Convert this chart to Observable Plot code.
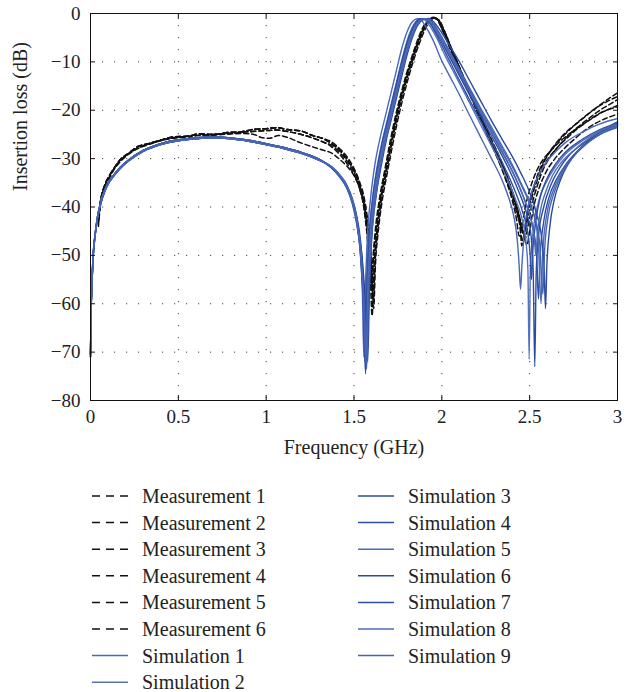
<!DOCTYPE html>
<html><head><meta charset="utf-8">
<script src="https://cdn.jsdelivr.net/npm/d3@7"></script>
<script src="https://cdn.jsdelivr.net/npm/@observablehq/plot@0.6"></script>
<style>
body{margin:0;background:#fff;}
#wrap{position:relative;width:639px;height:692px;font-family:"Liberation Serif",serif;color:#222;}
#legend{position:absolute;left:0;top:0;}
</style></head><body><div id="wrap"><div id="chart"></div><svg id="legend" width="639" height="692"></svg></div>
<script>
// ---- axis ticks ----
const xTicks = [0, 0.5, 1, 1.5, 2, 2.5, 3];
const yTicks = [0, -10, -20, -30, -40, -50, -60, -70, -80];

// ---- measured passbands (GHz, dB) ----
const measPassA = [[0.045,-43],[0.05,-40.6],[0.06,-38.2],[0.08,-35.6],[0.1,-34],[0.13,-32.2],[0.17,-30.2],[0.22,-28.8],[0.27,-27.5],[0.33,-26.9],[0.4,-26.2],[0.47,-25.5],[0.55,-25.4],[0.62,-24.9],[0.7,-25],[0.78,-24.6],[0.85,-24.5],[0.92,-24],[1.0,-23.8],[1.06,-23.6],[1.12,-24],[1.2,-24.3],[1.27,-25.3],[1.32,-25.8]];
const measPassB = [[0.045,-44],[0.05,-41.5],[0.06,-39],[0.08,-36.2],[0.1,-34.6],[0.13,-32.5],[0.17,-30.6],[0.22,-29],[0.27,-27.9],[0.33,-27.1],[0.4,-26.3],[0.47,-25.8],[0.55,-25.5],[0.6,-25.9],[0.65,-25.4],[0.72,-25.1],[0.8,-24.9],[0.87,-24.8],[0.93,-25],[0.98,-25.7],[1.02,-25.8],[1.07,-25.2],[1.12,-25.6],[1.18,-26.5],[1.25,-27.4],[1.32,-28.2]];
const measPassC = [[0.048,-42.5],[0.055,-40],[0.065,-37.8],[0.08,-35.8],[0.1,-34.3],[0.13,-32.3],[0.17,-30.4],[0.22,-28.9],[0.27,-27.8],[0.33,-27],[0.4,-26.2],[0.47,-25.7],[0.55,-25.4],[0.62,-25.2],[0.7,-25],[0.78,-24.8],[0.85,-24.6],[0.92,-24.4],[1.0,-24.2],[1.06,-24.1],[1.12,-24.4],[1.2,-25],[1.27,-25.8],[1.32,-26.5]];

// ---- measured upper parts ----
const meas1 = [[1.37,-26.8],[1.42,-28.3],[1.46,-30],[1.5,-32.3],[1.53,-35],[1.555,-38.8],[1.575,-44],[1.59,-51],[1.603,-62.5],[1.615,-52],[1.63,-45],[1.65,-39],[1.68,-33],[1.71,-27.2],[1.74,-21.8],[1.77,-17.2],[1.8,-13.2],[1.83,-9.6],[1.86,-6.4],[1.89,-3.6],[1.92,-1.7],[1.95,-0.9],[1.975,-1.2],[2.0,-3],[2.04,-6.3],[2.08,-9.6],[2.12,-13],[2.17,-17],[2.22,-21.3],[2.27,-25.5],[2.32,-29.5],[2.37,-34],[2.41,-38.5],[2.44,-43],[2.46,-47],[2.475,-45],[2.495,-41],[2.52,-37],[2.56,-32.5],[2.6,-29.5],[2.65,-27],[2.7,-25],[2.75,-23.3],[2.8,-21.8],[2.85,-20.3],[2.9,-18.9],[2.95,-17.6],[3.0,-16.4]];
const meas2 = [[1.37,-26.5],[1.42,-28],[1.46,-29.6],[1.5,-32],[1.53,-34.6],[1.56,-38.5],[1.582,-44],[1.598,-51],[1.61,-59],[1.62,-51],[1.635,-44.5],[1.655,-38.5],[1.685,-32.5],[1.715,-26.8],[1.745,-21.5],[1.775,-17],[1.805,-13],[1.835,-9.4],[1.865,-6.2],[1.895,-3.4],[1.925,-1.6],[1.955,-0.9],[1.98,-1.3],[2.01,-3.3],[2.05,-6.8],[2.09,-10.2],[2.13,-13.6],[2.18,-17.6],[2.23,-21.7],[2.28,-25.8],[2.33,-29.8],[2.38,-34.5],[2.42,-39],[2.45,-43.5],[2.475,-46.5],[2.49,-44],[2.51,-40],[2.54,-36],[2.58,-32],[2.62,-29.5],[2.67,-27.2],[2.72,-25.2],[2.78,-23.3],[2.84,-21.6],[2.9,-20],[2.95,-18.9],[3.0,-17.8]];
const meas3 = [[1.37,-27.2],[1.42,-28.8],[1.46,-30.5],[1.5,-32.8],[1.53,-35.5],[1.555,-39.5],[1.574,-45],[1.588,-51],[1.6,-57],[1.612,-50],[1.628,-44],[1.648,-38.5],[1.678,-32.5],[1.708,-26.8],[1.738,-21.5],[1.768,-17],[1.798,-13],[1.828,-9.5],[1.858,-6.3],[1.888,-3.5],[1.918,-1.6],[1.948,-0.9],[1.972,-1.2],[2.0,-3.1],[2.04,-6.6],[2.08,-10],[2.12,-13.5],[2.17,-17.6],[2.22,-21.8],[2.27,-26],[2.32,-30.2],[2.36,-34],[2.4,-38.5],[2.425,-42.5],[2.44,-46],[2.455,-44],[2.475,-40],[2.5,-36.5],[2.54,-32.5],[2.58,-30],[2.63,-28],[2.68,-26.2],[2.74,-24.5],[2.8,-23],[2.86,-21.6],[2.92,-20.3],[3.0,-19.3]];
const meas4 = [[1.37,-28.8],[1.42,-30.2],[1.46,-31.6],[1.5,-33.5],[1.53,-36],[1.56,-40],[1.583,-45.5],[1.6,-52],[1.612,-61],[1.622,-52],[1.638,-45],[1.658,-39.3],[1.688,-33.2],[1.718,-27.5],[1.748,-22.2],[1.778,-17.6],[1.808,-13.5],[1.838,-9.8],[1.868,-6.6],[1.898,-3.8],[1.928,-1.8],[1.958,-1],[1.985,-1.4],[2.015,-3.6],[2.055,-7.2],[2.095,-10.7],[2.135,-14.2],[2.185,-18.3],[2.235,-22.5],[2.285,-26.6],[2.335,-30.6],[2.385,-35.2],[2.425,-39.6],[2.455,-43.8],[2.485,-47.8],[2.5,-45],[2.52,-40.5],[2.55,-36.5],[2.59,-33],[2.64,-30.2],[2.7,-27.8],[2.76,-25.8],[2.82,-24],[2.88,-22.6],[2.94,-21.6],[3.0,-20.8]];
const meas5 = [[1.37,-26.9],[1.42,-28.4],[1.46,-30.2],[1.5,-32.5],[1.53,-35.2],[1.557,-39],[1.578,-44.5],[1.593,-51],[1.607,-60],[1.618,-51],[1.633,-44.8],[1.652,-39],[1.682,-33],[1.712,-27],[1.742,-21.7],[1.772,-17.1],[1.802,-13.1],[1.832,-9.5],[1.862,-6.3],[1.892,-3.5],[1.922,-1.6],[1.952,-0.8],[1.977,-1.2],[2.005,-3.1],[2.045,-6.5],[2.085,-9.9],[2.125,-13.3],[2.175,-17.4],[2.225,-21.5],[2.275,-25.7],[2.325,-29.7],[2.375,-34.2],[2.415,-38.8],[2.445,-43.5],[2.455,-48],[2.47,-45],[2.49,-40.5],[2.52,-36.2],[2.56,-32],[2.6,-29.3],[2.65,-26.8],[2.7,-24.8],[2.76,-22.9],[2.82,-21.1],[2.88,-19.5],[2.94,-18.2],[3.0,-17.2]];
const meas6 = [[1.37,-27.5],[1.42,-29.2],[1.46,-31],[1.5,-33.3],[1.53,-36],[1.555,-40],[1.572,-45],[1.586,-50.5],[1.598,-55.5],[1.61,-49.5],[1.625,-43.5],[1.645,-38.3],[1.675,-32.4],[1.705,-26.6],[1.735,-21.4],[1.765,-16.9],[1.795,-12.9],[1.825,-9.4],[1.855,-6.2],[1.885,-3.4],[1.915,-1.6],[1.945,-0.9],[1.97,-1.1],[1.998,-3],[2.038,-6.5],[2.078,-9.9],[2.118,-13.4],[2.168,-17.5],[2.218,-21.7],[2.268,-25.9],[2.318,-30],[2.368,-34.4],[2.408,-38.8],[2.44,-42.8],[2.465,-45.5],[2.48,-43],[2.5,-39.5],[2.53,-35.8],[2.57,-32.2],[2.61,-29.8],[2.66,-27.6],[2.72,-25.5],[2.78,-23.6],[2.84,-22],[2.9,-20.6],[2.95,-19.8],[3.0,-19]];

// ---- simulated passbands ----
const simPassA = [[0,-70.5],[0.003,-62],[0.008,-56],[0.015,-50],[0.025,-46],[0.04,-42],[0.06,-38.8],[0.08,-36.6],[0.1,-35],[0.13,-33.5],[0.17,-31.8],[0.22,-30.2],[0.3,-28.3],[0.4,-26.9],[0.5,-26.1],[0.6,-25.7],[0.7,-25.5],[0.8,-25.7],[0.9,-26.2],[1.0,-26.9],[1.1,-27.7],[1.2,-28.7],[1.3,-30.1]];
const simPassB = [[0,-71],[0.003,-62.5],[0.008,-56.5],[0.015,-50.5],[0.025,-46.3],[0.04,-42.3],[0.06,-39.1],[0.08,-36.9],[0.1,-35.3],[0.13,-33.7],[0.17,-32],[0.22,-30.4],[0.3,-28.5],[0.4,-27.1],[0.5,-26.3],[0.6,-25.9],[0.7,-25.7],[0.8,-25.9],[0.9,-26.4],[1.0,-27.1],[1.1,-27.9],[1.2,-28.9],[1.3,-30.3]];

// ---- simulated upper parts ----
const sim1 = [[1.37,-31.8],[1.42,-33.8],[1.46,-36],[1.49,-39],[1.515,-43],[1.535,-49],[1.548,-58],[1.556,-71],[1.564,-58],[1.575,-47],[1.595,-38],[1.62,-31],[1.65,-25.5],[1.68,-21],[1.71,-16.5],[1.74,-12],[1.77,-7.5],[1.8,-4],[1.83,-1.8],[1.86,-1.1],[1.88,-1.3],[1.91,-2.8],[1.95,-5.5],[2.0,-9.8],[2.05,-13.3],[2.1,-16.8],[2.16,-21.2],[2.22,-25.5],[2.28,-29.8],[2.34,-34.2],[2.38,-38],[2.41,-42],[2.43,-47],[2.44,-52],[2.448,-57],[2.456,-52],[2.47,-45],[2.5,-38.5],[2.55,-33.5],[2.6,-30.5],[2.65,-28.5],[2.7,-26.8],[2.8,-24.5],[2.9,-22.8],[3.0,-21.7]];
const sim2 = [[1.37,-31.7],[1.42,-33.5],[1.46,-35.7],[1.49,-38.5],[1.515,-42],[1.535,-47.5],[1.552,-56],[1.561,-72],[1.57,-57],[1.585,-46],[1.605,-38.5],[1.63,-32],[1.66,-26.5],[1.69,-22],[1.72,-17.5],[1.75,-13],[1.78,-8.5],[1.81,-4.8],[1.84,-2.3],[1.87,-1.2],[1.9,-1.3],[1.93,-2.5],[1.97,-5],[2.02,-8.8],[2.08,-13],[2.14,-17.2],[2.2,-21.5],[2.26,-25.8],[2.32,-30],[2.37,-34],[2.42,-38.5],[2.46,-43],[2.48,-47.5],[2.49,-53],[2.497,-71.5],[2.504,-53],[2.52,-45],[2.55,-39],[2.6,-34.5],[2.65,-31.5],[2.7,-29.2],[2.8,-26.3],[2.9,-24.3],[3.0,-22.8]];
const sim3 = [[1.37,-31.8],[1.42,-33.7],[1.46,-36],[1.49,-39],[1.515,-43],[1.535,-49],[1.553,-60],[1.566,-74.5],[1.575,-60],[1.59,-47],[1.61,-39],[1.64,-32],[1.67,-26.5],[1.7,-22],[1.73,-17.3],[1.76,-12.8],[1.79,-8.5],[1.82,-4.8],[1.85,-2.4],[1.88,-1.2],[1.91,-1.1],[1.94,-2.2],[1.98,-4.6],[2.03,-8],[2.09,-12.2],[2.15,-16.3],[2.21,-20.4],[2.27,-24.5],[2.33,-28.5],[2.39,-32.8],[2.44,-37],[2.48,-41],[2.505,-45],[2.52,-53],[2.529,-73],[2.537,-54],[2.55,-46],[2.58,-40],[2.62,-35.5],[2.67,-32],[2.72,-29.5],[2.8,-27],[2.9,-24.6],[3.0,-23]];
const sim4 = [[1.37,-31.6],[1.42,-33.4],[1.46,-35.5],[1.49,-38.2],[1.515,-41.8],[1.537,-47],[1.556,-57],[1.57,-73],[1.58,-58],[1.595,-46],[1.615,-38.5],[1.645,-31],[1.675,-25.5],[1.705,-21],[1.735,-16.5],[1.765,-12],[1.795,-7.8],[1.825,-4.3],[1.855,-2.1],[1.885,-1.1],[1.915,-1.2],[1.945,-2.4],[1.99,-5.2],[2.04,-8.5],[2.1,-12.5],[2.16,-16.5],[2.22,-20.5],[2.28,-24.5],[2.34,-28.5],[2.4,-32.5],[2.45,-36.5],[2.49,-40.5],[2.52,-44.5],[2.54,-50],[2.55,-59],[2.56,-50],[2.58,-43],[2.61,-38],[2.65,-34.5],[2.7,-31.5],[2.8,-27.5],[2.9,-25],[3.0,-23.4]];
const sim5 = [[1.37,-31.9],[1.42,-33.9],[1.46,-36.2],[1.49,-39.3],[1.515,-43.5],[1.54,-50],[1.56,-60],[1.575,-71],[1.585,-58],[1.6,-46],[1.62,-38],[1.65,-31],[1.68,-25.5],[1.71,-21],[1.74,-16.5],[1.77,-12],[1.8,-7.8],[1.83,-4.5],[1.86,-2.2],[1.89,-1.2],[1.92,-1.1],[1.95,-2],[1.99,-4.2],[2.04,-7.5],[2.1,-11.5],[2.16,-15.5],[2.22,-19.5],[2.28,-23.3],[2.34,-27.2],[2.4,-31.2],[2.45,-35],[2.5,-39],[2.53,-42.5],[2.55,-48],[2.565,-60],[2.575,-49],[2.6,-41],[2.63,-37],[2.68,-33],[2.75,-29.5],[2.85,-26.2],[2.93,-24.3],[3.0,-23.2]];
const sim6 = [[1.37,-31.7],[1.42,-33.6],[1.46,-35.8],[1.49,-38.8],[1.52,-43.5],[1.545,-50],[1.565,-60],[1.578,-72],[1.588,-57],[1.602,-46],[1.625,-38],[1.655,-31.5],[1.685,-26],[1.715,-21.5],[1.745,-17],[1.775,-12.5],[1.805,-8.2],[1.835,-4.7],[1.865,-2.3],[1.895,-1.2],[1.925,-1],[1.955,-1.8],[2.0,-4],[2.05,-7],[2.1,-10],[2.16,-14],[2.22,-18],[2.28,-22],[2.34,-25.8],[2.4,-29.5],[2.45,-33],[2.5,-37],[2.54,-41.5],[2.57,-47],[2.583,-53],[2.59,-61],[2.598,-52],[2.615,-44],[2.64,-38.5],[2.68,-34],[2.73,-30.5],[2.8,-27.5],[2.9,-24.5],[3.0,-22.4]];
const sim7 = [[1.37,-31.8],[1.42,-33.6],[1.46,-35.9],[1.49,-38.7],[1.515,-42.5],[1.535,-48],[1.552,-58],[1.563,-71],[1.572,-57],[1.587,-45.5],[1.607,-38],[1.635,-31.5],[1.665,-26],[1.695,-21.5],[1.725,-17],[1.755,-12.5],[1.785,-8.2],[1.815,-4.6],[1.845,-2.2],[1.875,-1.1],[1.905,-1.1],[1.935,-2.2],[1.975,-4.8],[2.025,-8.4],[2.08,-12.4],[2.14,-16.6],[2.2,-20.8],[2.26,-25],[2.32,-29],[2.37,-32.8],[2.42,-37],[2.46,-41],[2.49,-45.5],[2.503,-50],[2.51,-55],[2.518,-49],[2.535,-43],[2.56,-38],[2.6,-34],[2.65,-31],[2.7,-28.8],[2.8,-26],[2.9,-24],[3.0,-22.6]];
const sim8 = [[1.37,-31.6],[1.42,-33.4],[1.46,-35.6],[1.49,-38.4],[1.515,-42.3],[1.537,-48.5],[1.556,-60],[1.568,-72],[1.578,-58],[1.592,-46.5],[1.612,-38.5],[1.64,-32],[1.67,-26.5],[1.7,-22],[1.73,-17.5],[1.76,-13],[1.79,-8.8],[1.82,-5],[1.85,-2.5],[1.88,-1.3],[1.91,-1.1],[1.94,-2],[1.98,-4.3],[2.03,-7.6],[2.09,-11.6],[2.15,-15.6],[2.21,-19.6],[2.27,-23.6],[2.33,-27.6],[2.39,-31.8],[2.44,-35.8],[2.48,-39.5],[2.51,-43],[2.527,-46.5],[2.535,-50],[2.543,-46],[2.56,-41],[2.59,-37],[2.63,-33.5],[2.68,-30.8],[2.75,-28.3],[2.85,-25.5],[2.93,-23.8],[3.0,-22.9]];
const sim9 = [[1.37,-31.7],[1.42,-33.7],[1.46,-36],[1.49,-39],[1.518,-43.5],[1.54,-50.5],[1.558,-61],[1.572,-73.5],[1.582,-59],[1.598,-47],[1.62,-39],[1.648,-32],[1.678,-26.5],[1.708,-22],[1.738,-17.3],[1.768,-12.8],[1.798,-8.5],[1.828,-5],[1.858,-2.5],[1.888,-1.3],[1.918,-1.1],[1.948,-2],[1.99,-4.5],[2.04,-7.8],[2.1,-11.8],[2.16,-15.8],[2.22,-19.8],[2.28,-23.8],[2.34,-27.7],[2.4,-31.6],[2.45,-35.3],[2.5,-39.3],[2.535,-43],[2.558,-48],[2.575,-58],[2.585,-49],[2.605,-42],[2.635,-37.5],[2.68,-33.5],[2.74,-30],[2.82,-27],[2.9,-25],[3.0,-23.6]];

// ---- series names / styles ----
const measNames = ["Measurement 1","Measurement 2","Measurement 3","Measurement 4","Measurement 5","Measurement 6"];
const simNames = ["Simulation 1","Simulation 2","Simulation 3","Simulation 4","Simulation 5","Simulation 6","Simulation 7","Simulation 8","Simulation 9"];
const simColors = ["#4a68b6","#5572bb","#2c4ba0","#2e4ea3","#4c6ab7","#2b4a9f","#2f4fa4","#4d6bb8","#4464b3"];

const measSeries = [measPassA.concat(meas1), measPassA.concat(meas2), measPassC.concat(meas3), measPassB.concat(meas4), measPassA.concat(meas5), measPassC.concat(meas6)];
const simSeries = [simPassA.concat(sim1), simPassB.concat(sim2), simPassA.concat(sim3), simPassB.concat(sim4), simPassA.concat(sim5), simPassB.concat(sim6), simPassA.concat(sim7), simPassB.concat(sim8), simPassA.concat(sim9)];

const measRows = measSeries.flatMap((s, i) => s.map(([f, db]) => ({name: measNames[i], f, db})));
const simRows = simSeries.flatMap((s, i) => s.map(([f, db]) => ({name: simNames[i], color: simColors[i], f, db})));

const fmtY = d => d < 0 ? "\u2212" + Math.abs(d) : String(d);
const fmtX = d => String(d);

const plot = Plot.plot({
  width: 639, height: 470,
  marginLeft: 90, marginRight: 22, marginTop: 13, marginBottom: 70,
  style: {fontFamily: '"Liberation Serif", serif', fontSize: "19px", color: "#222", background: "white"},
  x: {domain: [0, 3]},
  y: {domain: [-80, 0]},
  color: {type: "identity"},
  marks: [
    Plot.gridX(xTicks.slice(1, -1), {stroke: "#444", strokeOpacity: 1, strokeWidth: 1, strokeDasharray: "1.2,10.8"}),
    Plot.gridY(yTicks.slice(1, -1), {stroke: "#444", strokeOpacity: 1, strokeWidth: 1, strokeDasharray: "1.2,10.8"}),
    Plot.line(measRows, {x: "f", y: "db", z: "name", stroke: "#111", strokeWidth: 1.5, strokeDasharray: "5,3", curve: "monotone-x"}),
    Plot.line(simRows, {x: "f", y: "db", z: "name", stroke: "color", strokeWidth: 1.4, curve: "monotone-x"}),
    Plot.frame({stroke: "#111", strokeWidth: 1}),
    Plot.axisX(xTicks, {anchor: "bottom", tickSize: 0, tickPadding: 9, tickFormat: fmtX, fontSize: 19, fill: "#222", label: null}),
    Plot.axisY(yTicks, {anchor: "left", tickSize: 0, tickPadding: 10, tickFormat: fmtY, fontSize: 19, fill: "#222", label: null}),
    Plot.axisX(xTicks, {anchor: "bottom", tickSize: -5, fill: "none", label: null, stroke: "#111"}),
    Plot.axisX(xTicks, {anchor: "top", tickSize: -5, fill: "none", label: null, stroke: "#111"}),
    Plot.axisY(yTicks, {anchor: "left", tickSize: -5, fill: "none", label: null, stroke: "#111"}),
    Plot.axisY(yTicks, {anchor: "right", tickSize: -5, fill: "none", label: null, stroke: "#111"}),
    Plot.text(["Frequency (GHz)"], {text: d => d, frameAnchor: "bottom", dy: 53, fontSize: 20, fill: "#222"}),
    Plot.text(["Insertion loss (dB)"], {text: d => d, frameAnchor: "left", rotate: -90, dx: -70, dy: -16, fontSize: 20, fill: "#222"})
  ]
});
document.getElementById("chart").appendChild(plot);

// ---- legend ----
const legendItems = measNames.map(n => ({name: n, dashed: true, color: "#111"}))
  .concat(simNames.map((n, i) => ({name: n, dashed: false, color: simColors[i]})));
const lg = d3.select("#legend");
legendItems.forEach((it, i) => {
  const col = i < 8 ? 0 : 1;
  const row = i < 8 ? i : i - 8;
  const cy = 496 + row * 26.6;
  const x0 = col === 0 ? 92 : 358;
  lg.append("line").attr("x1", x0).attr("x2", x0 + 36).attr("y1", cy).attr("y2", cy)
    .attr("stroke", it.color).attr("stroke-width", 1.5)
    .attr("stroke-dasharray", it.dashed ? "8,6" : null);
  lg.append("text").attr("x", x0 + 50).attr("y", cy).attr("dy", "0.35em")
    .attr("font-family", '"Liberation Serif", serif').attr("font-size", 20).attr("fill", "#222")
    .text(it.name);
});
</script></body></html>
